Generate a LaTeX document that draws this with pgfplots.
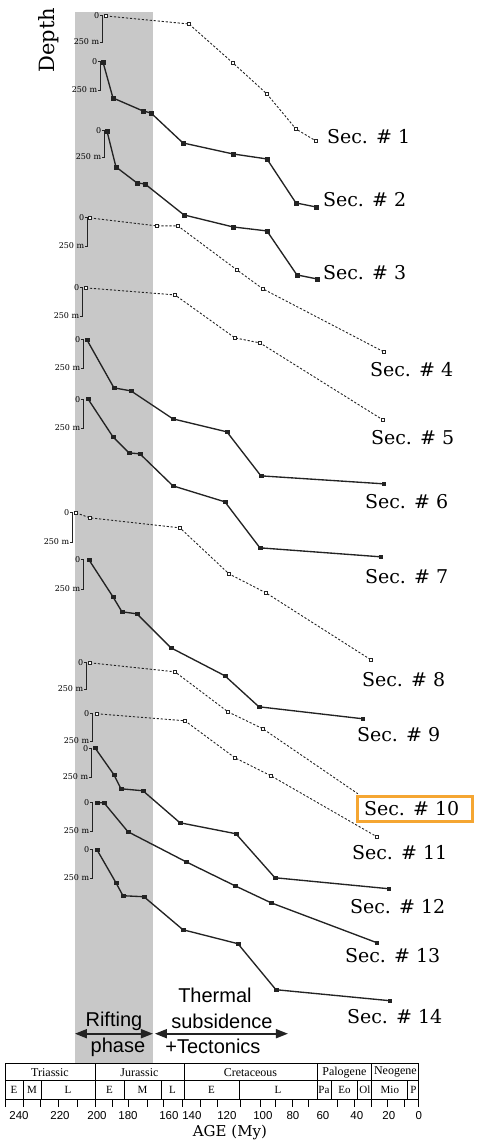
\documentclass[border=0pt]{standalone}
\usepackage{pgfplots}
\pgfplotsset{compat=1.18}
\usepackage{fontspec}
\setmainfont{DejaVu Serif}
\newfontfamily\sansf{Liberation Sans}
\newfontfamily\tsf{Liberation Serif}
\usetikzlibrary{arrows.meta}
\definecolor{band}{RGB}{200,200,200}
\definecolor{hl}{RGB}{245,166,50}
\definecolor{ln}{RGB}{35,35,35}

\newcommand\sbar[3]{%
 \draw[ln, line width=1pt] ([xshift=-3pt]axis cs:#1,#2) -- (axis cs:#1,#2) -- (axis cs:#1,#3) -- ([xshift=-3pt]axis cs:#1,#3);
 \node[anchor=east, inner sep=0.6pt, font=\fontsize{8}{9}\selectfont] at ([xshift=-3pt]axis cs:#1,#2) {0};
 \node[anchor=base east, inner sep=0.6pt, font=\fontsize{8}{9}\selectfont] at ([xshift=-3pt,yshift=-1.5pt]axis cs:#1,#3) {250 m};
}
\newcommand\slab[3]{%
 \node[anchor=base west, inner sep=0pt, font=\fontsize{19}{22}\selectfont] at (axis cs:#1,#2) {#3};
}
\newcommand\vfull[1]{\draw[black, line width=0.8pt] (axis cs:#1,-1064) -- (axis cs:#1,-1100);}
\newcommand\vhalf[1]{\draw[black, line width=0.8pt] (axis cs:#1,-1081) -- (axis cs:#1,-1100);}
\newcommand\rowa[2]{\node[font=\tsf\fontsize{12}{13}\selectfont, inner sep=0pt] at (axis cs:#1,-1072.5) {#2};}
\newcommand\rowb[2]{\node[font=\tsf\fontsize{11}{12}\selectfont, inner sep=0pt] at (axis cs:#1,-1090.5) {#2};}

\begin{document}
\begin{tikzpicture}
\begin{axis}[
  scale only axis, width=477pt, height=1100pt,
  xmin=-34.8, xmax=251.4, x dir=reverse,
  ymin=-1100, ymax=0,
  clip=false,
  axis x line*=bottom, axis y line=none,
  x axis line style={draw=none},
  tick align=outside, major tick length=7pt,
  tick style={line width=0.8pt, black},
  xtick={248.4,237.6,227.4,216.6,205.2,194.4,184.2,174.6,163.2,153.6,142.2,131.4,121.2,107.4,95.4,86.4,76.2,66.6,48.6,38.4,28.2,18.6,8.4,0},
  xticklabels={},
  extra x ticks={240,215.4,193.2,174.6,150,136.2,115.2,93.6,75.6,57.6,37.2,18,0},
  extra x tick labels={240,220,200,180,160,140,120,100,80,60,40,20,0},
  extra x tick style={major tick style={draw=none}},
  xticklabel style={font=\sansf\fontsize{11.5}{13}\selectfont, yshift=-1pt},
  solidsec/.style={ln, line width=1.35pt, mark=square*, mark size=1.9pt, mark options={solid, fill=ln, line width=0.6pt}},
  dashsec/.style={ln, line width=0.9pt, dash pattern=on 2.2pt off 1.8pt, mark=square*, mark size=1.8pt, mark options={solid, fill=white, line width=0.8pt}},
]
% bounding box
\path (axis cs:251.4,-1140) rectangle (axis cs:-34.8,0);
% rifting band
\addplot[draw=none, fill=band] coordinates {(206.4,-12) (159.6,-12) (159.6,-1064) (206.4,-1064)};

% sections
\addplot[dashsec] coordinates {(187.8,-16) (138,-24) (111.6,-63) (91.2,-94) (73.8,-129) (61.8,-141)};
\addplot[solidsec] coordinates {(189.6,-62) (183.6,-98) (165.6,-111) (160.8,-113) (141.6,-143) (111.6,-154) (91.2,-159) (73.8,-203) (61.8,-207)};
\addplot[solidsec] coordinates {(187.2,-131) (181.8,-167) (169.2,-183) (164.4,-184) (141,-215) (111.6,-227) (91.2,-231) (73.2,-275) (61.2,-279)};
\addplot[dashsec] coordinates {(197.4,-218) (157.2,-226) (144.6,-226) (109.2,-270) (93.6,-289) (21,-352)};
\addplot[dashsec] coordinates {(199.8,-288) (146.4,-295) (110.4,-338) (95.4,-343) (21.6,-420)};
\addplot[solidsec] coordinates {(199.2,-340) (183,-388) (172.8,-391) (147.6,-419) (115.2,-432) (94.8,-476) (21,-484)};
\addplot[solidsec] coordinates {(198.6,-399) (183.6,-437) (174,-453) (167.4,-454) (147.6,-486) (116.4,-502) (95.4,-548) (22.8,-557)};
\addplot[dashsec] coordinates {(205.8,-513) (197.4,-518) (143.4,-528) (114,-574) (91.8,-593) (28.8,-660)};
\addplot[solidsec] coordinates {(198,-560) (183.6,-597) (178.2,-612) (169.2,-614) (148.8,-648) (116.4,-676) (96,-707) (33.6,-719)};
\addplot[dashsec, mark indices={1,2,3,4}] coordinates {(197.4,-663) (146.4,-672) (114.6,-712) (93.6,-729) (36.6,-794)};
\addplot[dashsec] coordinates {(193.2,-714) (140.4,-721) (110.4,-758) (88.8,-776) (25.2,-837)};
\addplot[solidsec] coordinates {(194.4,-748) (183,-775) (178.8,-789) (165.6,-791) (143.4,-823) (109.8,-834) (86.4,-878) (18,-889)};
\addplot[solidsec] coordinates {(193.2,-803) (189,-803) (174.6,-832) (139.8,-862) (110.4,-886) (88.8,-903) (25.2,-943)};
\addplot[solidsec] coordinates {(193.2,-850) (181.8,-883) (177.6,-896) (165,-897) (141.6,-930) (108.6,-944) (85.8,-990) (17.4,-1001)};

% scale bars
\sbar{189.6}{-16}{-43}
\sbar{190.8}{-62}{-91}
\sbar{188.4}{-131}{-158}
\sbar{198.6}{-218}{-247}
\sbar{201.6}{-288}{-317}
\sbar{201}{-340}{-369}
\sbar{201}{-400}{-429}
\sbar{207.6}{-513}{-543}
\sbar{201}{-560}{-590}
\sbar{199.2}{-663}{-690}
\sbar{195.6}{-714}{-742}
\sbar{196.2}{-749}{-778}
\sbar{195.6}{-803}{-832}
\sbar{195.6}{-850}{-879}

% highlight box
\draw[hl, line width=3.2pt, fill=white] (axis cs:36.84,-796.6) rectangle (axis cs:-32.04,-821.4);

% section labels
\slab{55.2}{-144}{Sec. \# 1}
\slab{57.6}{-207}{Sec. \# 2}
\slab{57.6}{-280}{Sec. \# 3}
\slab{29.4}{-377}{Sec. \# 4}
\slab{28.8}{-445}{Sec. \# 5}
\slab{32.4}{-509}{Sec. \# 6}
\slab{32.4}{-584}{Sec. \# 7}
\slab{34.2}{-687}{Sec. \# 8}
\slab{37.2}{-742}{Sec. \# 9}
\slab{33}{-816}{Sec. \# 10}
\slab{40.2}{-860}{Sec. \# 11}
\slab{41.4}{-914}{Sec. \# 12}
\slab{44.4}{-963}{Sec. \# 13}
\slab{43.2}{-1024}{Sec. \# 14}

% Depth label
\node[rotate=90, font=\fontsize{21}{24}\selectfont] at (axis cs:222,-40) {Depth};

% phase arrows and text
\draw[ln, line width=1.8pt, {Triangle[length=12pt,width=9pt]}-{Triangle[length=12pt,width=9pt]}] (axis cs:206.4,-1034) -- (axis cs:159.6,-1034);
\draw[ln, line width=1.8pt, {Triangle[length=12pt,width=9pt]}-{Triangle[length=12pt,width=9pt]}] (axis cs:158.4,-1034) -- (axis cs:78.6,-1034);
\node[anchor=base, inner sep=0pt, font=\sansf\fontsize{20}{24}\selectfont] at (axis cs:183,-1027) {Rifting};
\node[anchor=base, inner sep=0pt, font=\sansf\fontsize{20}{24}\selectfont] at (axis cs:180.6,-1053) {phase};
\node[anchor=base, inner sep=0pt, font=\sansf\fontsize{20}{24}\selectfont] at (axis cs:122.4,-1003) {Thermal};
\node[anchor=base, inner sep=0pt, font=\sansf\fontsize{20}{24}\selectfont] at (axis cs:118.2,-1029) {subsidence};
\node[anchor=base, inner sep=0pt, font=\sansf\fontsize{20}{24}\selectfont] at (axis cs:123.6,-1054) {+Tectonics};

% geological time scale table
\draw[black, line width=0.8pt, fill=white] (axis cs:248.4,-1064) rectangle (axis cs:0,-1100);
\draw[black, line width=0.8pt] (axis cs:248.4,-1081) -- (axis cs:0,-1081);
\vfull{194.4} \vfull{141} \vfull{61.2} \vfull{28.2}
\vhalf{237.6} \vhalf{226.8} \vhalf{177} \vhalf{154.8} \vhalf{108} \vhalf{52.8} \vhalf{36.6} \vhalf{6.6}
\rowa{221.4}{Triassic} \rowa{167.7}{Jurassic} \rowa{101.1}{Cretaceous} \rowa{44.7}{Palogene} \rowa{14.1}{Neogene}
\rowb{243}{E} \rowb{232.2}{M} \rowb{210.6}{L} \rowb{185.7}{E} \rowb{165.9}{M} \rowb{147.9}{L} \rowb{124.5}{E} \rowb{84.6}{L}
\rowb{57}{Pa} \rowb{44.7}{Eo} \rowb{32.4}{Ol} \rowb{17.4}{Mio} \rowb{3.3}{P}
\node[anchor=base, inner sep=0pt, font=\fontsize{15}{17}\selectfont] at (axis cs:113.4,-1137) {AGE (My)};
\end{axis}
\end{tikzpicture}
\end{document}
